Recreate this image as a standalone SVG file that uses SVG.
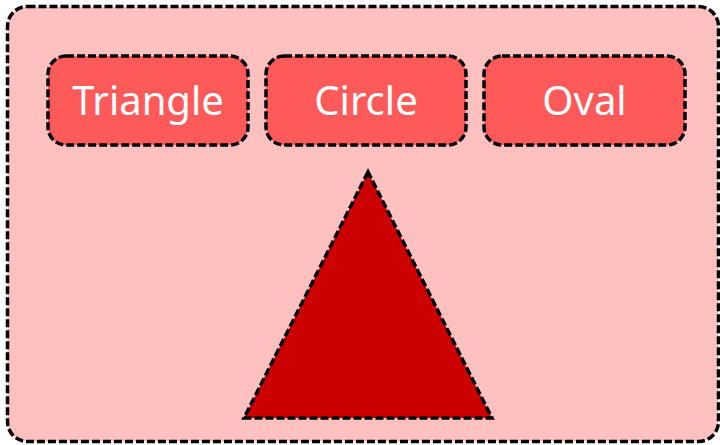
<svg xmlns="http://www.w3.org/2000/svg" width="720" height="445" viewBox="0 0 720 445">
<style>
.d{stroke:#000;stroke-width:3.5;stroke-dasharray:8 3}
.box{fill:#ff5a5a}
.t{font-family:"Noto Sans","Open Sans",sans-serif;font-size:40px;fill:#fff;text-anchor:middle;dominant-baseline:central}
</style>
<g id="container"><rect class="d" x="7.5" y="6.5" width="711" height="435" rx="20" fill="#ffc0c0"/></g>
<g id="triangle-label"><rect class="d box" x="48" y="56" width="200" height="89" rx="18"/><text class="t" x="148" y="99">Triangle</text></g>
<g id="circle-label"><rect class="d box" x="266" y="56" width="200" height="89" rx="18"/><text class="t" x="366" y="99">Circle</text></g>
<g id="oval-label"><rect class="d box" x="484" y="56" width="201" height="89" rx="18"/><text class="t" x="584.5" y="99">Oval</text></g>
<g id="triangle"><polygon class="d" points="368,172 244,418 492,418" fill="#cc0000"/></g>
<g id="connectors"></g>
</svg>
